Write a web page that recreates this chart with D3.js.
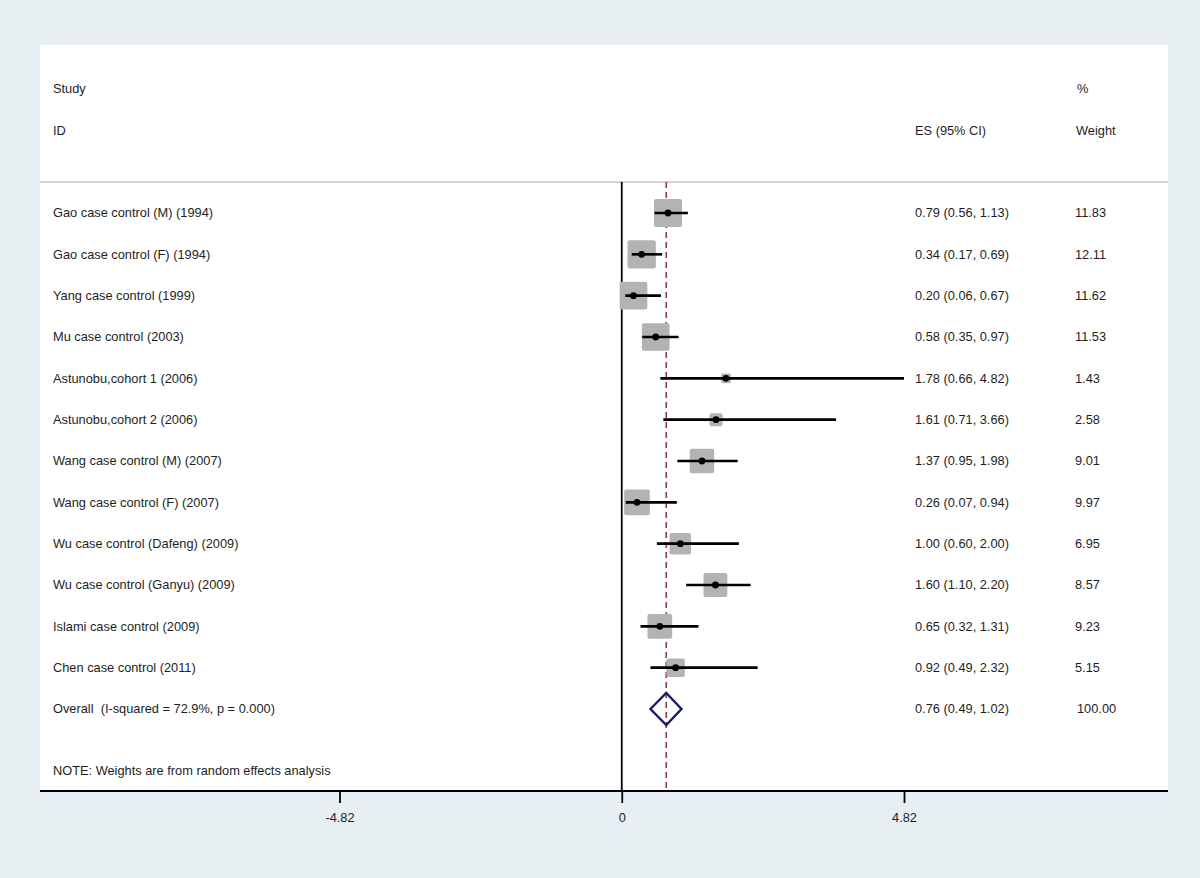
<!DOCTYPE html>
<html>
<head>
<meta charset="utf-8">
<script src="https://cdn.jsdelivr.net/npm/d3@7/dist/d3.min.js"></script>
<style>
  html, body { margin: 0; padding: 0; background: #e8eff2; }
  svg { display: block; }
  text { font-family: "Liberation Sans", Arial, sans-serif; font-size: 12.8px; fill: #1e1e1e; }
</style>
</head>
<body>
<script>
const studies = [
  "Gao case control (M) (1994)",
  "Gao case control (F) (1994)",
  "Yang case control (1999)",
  "Mu case control (2003)",
  "Astunobu,cohort 1 (2006)",
  "Astunobu,cohort 2 (2006)",
  "Wang case control (M) (2007)",
  "Wang case control (F) (2007)",
  "Wu case control (Dafeng) (2009)",
  "Wu case control (Ganyu) (2009)",
  "Islami case control (2009)",
  "Chen case control (2011)"
];
const es    = [0.79, 0.34, 0.20, 0.58, 1.78, 1.61, 1.37, 0.26, 1.00, 1.60, 0.65, 0.92];
const lower = [0.56, 0.17, 0.06, 0.35, 0.66, 0.71, 0.95, 0.07, 0.60, 1.10, 0.32, 0.49];
const upper = [1.13, 0.69, 0.67, 0.97, 4.82, 3.66, 1.98, 0.94, 2.00, 2.20, 1.31, 2.32];
const weights = ["11.83", "12.11", "11.62", "11.53", "1.43", "2.58", "9.01", "9.97", "6.95", "8.57", "9.23", "5.15"];

const overallLabel = "Overall  (I-squared = 72.9%, p = 0.000)";
const overallES = 0.76, overallLo = 0.49, overallHi = 1.02;
const overallWeight = "100.00";
const noteText = "NOTE: Weights are from random effects analysis";
const tickValues = [-4.82, 0, 4.82];
const tickLabels = ["-4.82", "0", "4.82"];

const W = 1200, H = 878;
const svg = d3.select("body").append("svg").attr("width", W).attr("height", H);

// plot region
const plotLeft = 40, plotRight = 1168, plotTop = 45, axisY = 791;
svg.append("rect").attr("x", plotLeft).attr("y", plotTop).attr("width", plotRight - plotLeft).attr("height", axisY - plotTop).attr("fill", "#ffffff");

const x = d3.scaleLinear().domain([-4.82, 4.82]).range([339.5, 904]);
const y = d3.scaleLinear().domain([0, 12]).range([213, 709]);
const boxScale = d3.scaleSqrt().domain([0, 11.83]).range([0, 28]);

const fmt = d3.format(".2f");
const esText = (e, l, h) => `${fmt(e)} (${fmt(l)}, ${fmt(h)})`;

// header
const colStudy = 53, colES = 915, colW = 1075;
svg.append("text").attr("x", colStudy).attr("y", y(-3)).attr("dy", "0.35em").text("Study");
svg.append("text").attr("x", colStudy).attr("y", y(-2)).attr("dy", "0.35em").text("ID");
svg.append("text").attr("x", colES).attr("y", y(-2)).attr("dy", "0.35em").text("ES (95% CI)");
svg.append("text").attr("x", colW + 2).attr("y", y(-3)).attr("dy", "0.35em").text("%");
svg.append("text").attr("x", colW + 1).attr("y", y(-2)).attr("dy", "0.35em").text("Weight");

// header separator
const sepY = y(-0.75);
svg.append("line").attr("x1", plotLeft).attr("x2", plotRight).attr("y1", sepY).attr("y2", sepY)
  .attr("stroke", "#c4c4c4").attr("stroke-width", 1.5);

// zero line
svg.append("line").attr("x1", x(0)).attr("x2", x(0)).attr("y1", sepY).attr("y2", axisY)
  .attr("stroke", "#000").attr("stroke-width", 1.8);

// overall dashed line
svg.append("line").attr("x1", x(overallES)).attr("x2", x(overallES)).attr("y1", sepY).attr("y2", axisY)
  .attr("stroke", "#8e3a48").attr("stroke-width", 1.6).attr("stroke-dasharray", "6,4");

const rows = studies.map((s, i) => ({ s, e: es[i], l: lower[i], h: upper[i], w: weights[i], i }));

// boxes
svg.selectAll("rect.box").data(rows).enter().append("rect")
  .attr("class", "box")
  .attr("x", d => x(d.e) - boxScale(+d.w) / 2)
  .attr("y", d => y(d.i) - boxScale(+d.w) / 2)
  .attr("width", d => boxScale(+d.w))
  .attr("height", d => boxScale(+d.w))
  .attr("rx", 2)
  .attr("fill", "#b3b3b3");

// CI lines
svg.selectAll("line.ci").data(rows).enter().append("line")
  .attr("x1", d => x(d.l)).attr("x2", d => x(d.h))
  .attr("y1", d => y(d.i)).attr("y2", d => y(d.i))
  .attr("stroke", "#000").attr("stroke-width", 2.6);

// points
svg.selectAll("circle.pt").data(rows).enter().append("circle")
  .attr("cx", d => x(d.e)).attr("cy", d => y(d.i)).attr("r", 3.4).attr("fill", "#000");

// diamond
const dmY = y(12), dmH = 16;
svg.append("path")
  .attr("d", `M${x(overallLo)},${dmY} L${x(overallES)},${dmY - dmH} L${x(overallHi)},${dmY} L${x(overallES)},${dmY + dmH} Z`)
  .attr("fill", "none").attr("stroke", "#1a1a6e").attr("stroke-width", 2.4);

// labels
svg.selectAll("text.study").data(rows).enter().append("text")
  .attr("x", colStudy).attr("y", d => y(d.i)).attr("dy", "0.35em").text(d => d.s);
svg.selectAll("text.es").data(rows).enter().append("text")
  .attr("x", colES).attr("y", d => y(d.i)).attr("dy", "0.35em").text(d => esText(d.e, d.l, d.h));
svg.selectAll("text.wt").data(rows).enter().append("text")
  .attr("x", colW).attr("y", d => y(d.i)).attr("dy", "0.35em").text(d => d.w);

svg.append("text").attr("x", colStudy).attr("y", y(12)).attr("dy", "0.35em").attr("xml:space", "preserve")
  .style("white-space", "pre").text(overallLabel);
svg.append("text").attr("x", colES).attr("y", y(12)).attr("dy", "0.35em").text(esText(overallES, overallLo, overallHi));
svg.append("text").attr("x", colW + 2).attr("y", y(12)).attr("dy", "0.35em").text(overallWeight);
svg.append("text").attr("x", colStudy).attr("y", y(13.5)).attr("dy", "0.35em").text(noteText);

// axis
const axisG = svg.append("g").attr("transform", `translate(0,${axisY})`);
axisG.append("line").attr("x1", plotLeft).attr("x2", plotRight).attr("y1", 0).attr("y2", 0)
  .attr("stroke", "#000").attr("stroke-width", 1.8);
const axis = d3.axisBottom(x).tickValues(tickValues).tickFormat((d, i) => tickLabels[i]).tickSize(12).tickPadding(10);
const ag = axisG.append("g").call(axis);
ag.select(".domain").remove();
ag.selectAll(".tick line").attr("stroke", "#000").attr("stroke-width", 1.8);
ag.selectAll(".tick text").attr("font-family", "Liberation Sans, Arial, sans-serif").attr("font-size", 12.8).attr("fill", "#1e1e1e");
</script>
</body>
</html>
